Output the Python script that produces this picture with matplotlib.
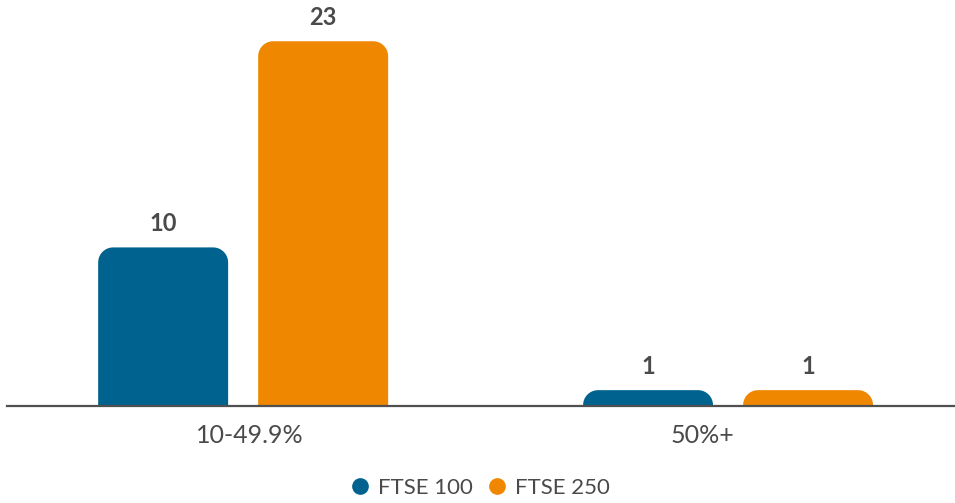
import numpy as np
import matplotlib
matplotlib.use("Agg")
import matplotlib.pyplot as plt
from matplotlib.path import Path
from matplotlib.patches import PathPatch
from matplotlib.lines import Line2D

categories = ["10-49.9%", "50%+"]
series_names = ["FTSE 100", "FTSE 250"]
ftse100 = [10, 1]
ftse250 = [23, 1]
colors = ["#00628F", "#F08700"]

plt.rcParams['font.family'] = ['Lato', 'DejaVu Sans']
text_color = "#4a4a4a"


def top_rounded(x0, w, h, rx, ry):
    # path for a bar with only the top corners rounded
    ry = min(ry, h)
    t = np.linspace(0, np.pi / 2, 12)
    left = [(x0 + rx - rx * np.cos(a), h - ry + ry * np.sin(a)) for a in t]
    right = [(x0 + w - rx + rx * np.sin(a), h - ry + ry * np.cos(a)) for a in t]
    verts = [(x0, 0)] + left + right + [(x0 + w, 0), (x0, 0)]
    codes = [Path.MOVETO] + [Path.LINETO] * (len(verts) - 2) + [Path.CLOSEPOLY]
    return Path(verts, codes)


fig = plt.figure(figsize=(9.55, 5.03), dpi=100)
ax = fig.add_axes([7 / 955, (503 - 406) / 503, 948 / 955, 406 / 503])

x = np.arange(len(categories))
width = 0.268
offset = 0.165
ax.set_xlim(-0.487, 1.468)
ax.set_ylim(0, 25.6)

# px -> data conversions for the corner radius
rx = 15 / 485
ry = 15 / 15.86

for vals, off, col in [(ftse100, -offset, colors[0]), (ftse250, offset, colors[1])]:
    bars = ax.bar(x + off, vals, width, color=col)
    for b, v in zip(bars, vals):
        b.set_visible(False)
        p = top_rounded(b.get_x(), b.get_width(), b.get_height(), rx, ry)
        ax.add_patch(PathPatch(p, facecolor=col, edgecolor='none'))
        ax.annotate(str(v), (b.get_x() + b.get_width() / 2, b.get_height()),
                    xytext=(0, 9), textcoords='offset points', ha='center', va='bottom',
                    fontsize=17, fontweight='bold', color=text_color)

for s in ['top', 'right', 'left']:
    ax.spines[s].set_visible(False)
ax.spines['bottom'].set_color('#505050')
ax.spines['bottom'].set_linewidth(1.6)
ax.set_yticks([])
ax.set_xticks(x + np.array([0.014, -0.052]))
ax.set_xticklabels(categories, fontsize=18, color=text_color)
ax.tick_params(axis='x', length=0, pad=13)

handles = [Line2D([], [], marker='o', linestyle='none', markersize=11,
                  markerfacecolor=c, markeredgecolor=c) for c in colors]
fig.legend(handles, series_names, loc='center', bbox_to_anchor=(0.502, 0.03),
           ncol=2, frameon=False, fontsize=16, labelcolor=text_color,
           handletextpad=0.3, columnspacing=0.6, handlelength=1.0)

fig.savefig("out.png", dpi=100)
